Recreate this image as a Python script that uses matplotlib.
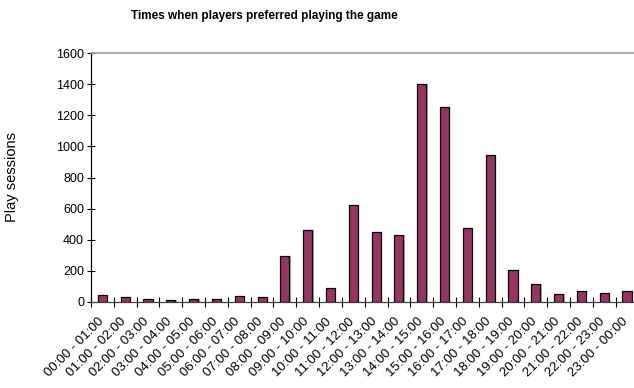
import matplotlib
matplotlib.use('Agg')
import matplotlib.pyplot as plt
import matplotlib.transforms as mtransforms
import numpy as np

plt.rcParams['font.family'] = ['Liberation Sans', 'DejaVu Sans']

# datos
franjas = ['00:00 - 01:00', '01:00 - 02:00', '02:00 - 03:00', '03:00 - 04:00',
           '04:00 - 05:00', '05:00 - 06:00', '06:00 - 07:00', '07:00 - 08:00',
           '08:00 - 09:00', '09:00 - 10:00', '10:00 - 11:00', '11:00 - 12:00',
           '12:00 - 13:00', '13:00 - 14:00', '14:00 - 15:00', '15:00 - 16:00',
           '16:00 - 17:00', '17:00 - 18:00', '18:00 - 19:00', '19:00 - 20:00',
           '20:00 - 21:00', '21:00 - 22:00', '22:00 - 23:00', '23:00 - 00:00']
sesiones = [45, 29, 19, 11, 16, 16, 37, 32, 295, 460, 86, 621, 448, 432,
            1403, 1252, 474, 942, 203, 112, 50, 68, 58, 68]
yticks = [0, 200, 400, 600, 800, 1000, 1200, 1400, 1600]

fig = plt.figure(figsize=(6.34, 3.88), dpi=100)
ax = fig.add_axes([91/634, 1-301.7/388, (638.4-91)/634, (301.7-53.3)/388])

x = np.arange(len(sesiones))
# sombra gris
ax.bar(x+0.06, sesiones, width=0.4, color='#b0b0b0', zorder=2)
ax.bar(x, sesiones, width=0.4, color='#993366', edgecolor='black', linewidth=0.9, zorder=3)

ax.set_xlim(-0.5, len(sesiones)-0.5)
ax.set_ylim(0, 1600)
ax.set_yticks(yticks)
ax.tick_params(axis='y', labelsize=9, direction='inout', length=6, width=0.8, pad=2)
ax.set_xticks(x)
ax.set_xticklabels(franjas, rotation=45, ha='right', rotation_mode='anchor', fontsize=9.5)
ax.set_xticks(np.arange(len(sesiones)+1)-0.5, minor=True)
ax.tick_params(axis='x', which='major', length=0, pad=10)
ax.tick_params(axis='x', which='minor', direction='inout', length=7, width=0.8)
desplaz = mtransforms.ScaledTranslation(-5/100, 0, fig.dpi_scale_trans)
for lab in ax.get_xticklabels():
    lab.set_transform(lab.get_transform() + desplaz)

ax.spines['right'].set_visible(False)
ax.spines['top'].set_color('#a0a0a0')
ax.spines['top'].set_linewidth(1.2)
ax.spines['left'].set_linewidth(0.9)
ax.spines['bottom'].set_linewidth(0.9)
ax.spines['bottom'].set_color('#404040')

fig.text(12/634, 1-177/388, 'Play sessions', rotation=90, ha='center', va='center', fontsize=10.5)
fig.text(264/634, 1-16/388, 'Times when players preferred playing the game',
         ha='center', va='center', fontsize=8.5, fontweight='bold')

plt.savefig('out.png', dpi=100)
